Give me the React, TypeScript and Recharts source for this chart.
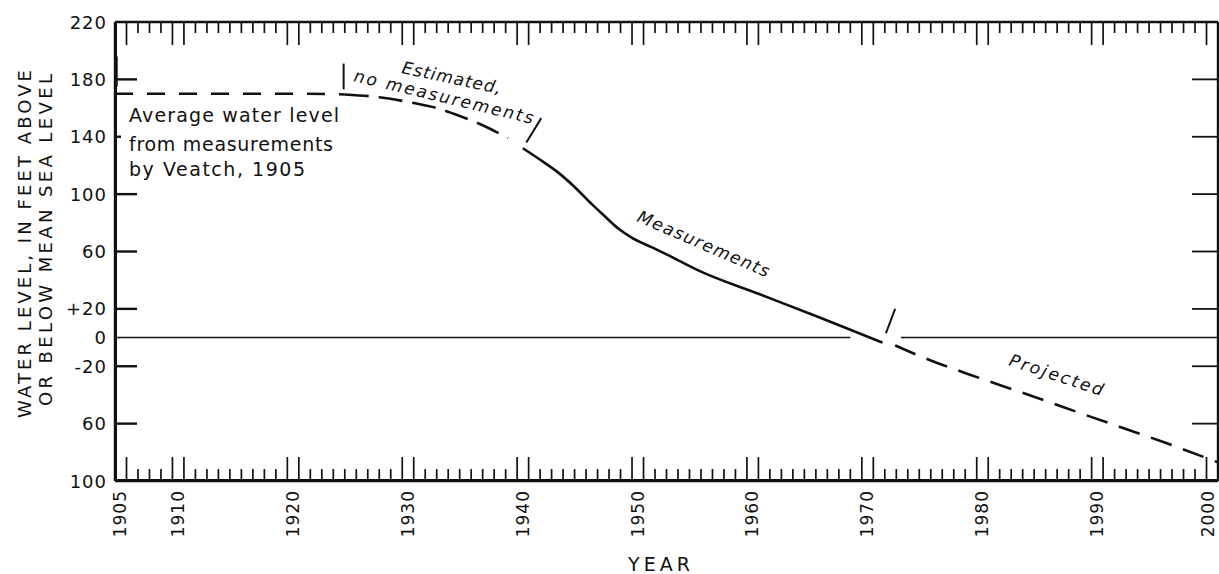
import { Line, LineChart, ReferenceLine, XAxis, YAxis } from "recharts"

// water level, feet above (+) or below (-) mean sea level
const veatchYears = [1904, 1910, 1916, 1920, 1924]
const veatchLevels = [170, 170, 170, 170, 169.5]

const estimatedYears = [1924, 1927, 1930, 1932, 1934, 1936, 1938.2]
const estimatedLevels = [169.5, 167.5, 163.5, 160, 154.5, 148, 139]

const measuredYears = [1939.5, 1941, 1942.5, 1944, 1945.5, 1946.7, 1947.8, 1949, 1950.7, 1952, 1955, 1960, 1965, 1968, 1970.8]
const measuredLevels = [132, 124, 115.5, 105, 93, 84, 76, 69.5, 63, 58, 46, 30.5, 15, 5.5, -3.5]

const projectedYears = [1971.9, 1975, 1978.1, 1982.8, 1989.2, 1995.3, 2000]
const projectedLevels = [-5.5, -16, -25, -38, -56, -73, -87]

// short break marks drawn across the curve
const breakMarks = [
  [[1904.15, 196], [1904.15, 175]],
  [[1923.9, 191], [1923.9, 173]],
  [[1941.1, 153], [1939.8, 136]],
  [[1971.9, 20], [1971.1, 3]],
]

// sea level line, broken where the curve crosses it
const seaLevelSpans = [
  [1904, 1968],
  [1972.4, 2000],
]

const levelTicks = [220, 180, 140, 100, 60, 20, 0, -20, -60, -100]
const levelTickLabels = ["220", "180", "140", "100", "60", "+20", "0", "-20", "60", "100"]

const yearTicks = Array.from({ length: 96 }, (_, i) => 1905 + i)
const yearLabels = [1905, 1910, 1920, 1930, 1940, 1950, 1960, 1970, 1980, 1990, 2000]

const toRows = (years: number[], levels: number[]) => years.map((year, i) => ({ year, level: levels[i] }))

const veatch = toRows(veatchYears, veatchLevels)
const estimated = toRows(estimatedYears, estimatedLevels)
const measured = toRows(measuredYears, measuredLevels)
const projected = toRows(projectedYears, projectedLevels)

const FONT = "'DejaVu Sans', sans-serif"
const INK = "#111"

const isLongYear = (year: number) => year % 10 === 0 || year % 10 === 9 || year === 1905

function BottomTick({ x, y, payload }: any) {
  const year = payload.value
  const len = isLongYear(year) ? 24 : 12
  const lx = year === 2000 ? x - 10 : x - 6
  return (
    <g>
      <line x1={x} x2={x} y1={y} y2={y - len} stroke={INK} strokeWidth={1.7} />
      {yearLabels.includes(year) && (
        <text
          x={lx}
          y={y + 9}
          transform={`rotate(-90 ${lx} ${y + 9})`}
          textAnchor="end"
          dominantBaseline="central"
          fontFamily={FONT}
          fontSize={17}
          letterSpacing={1}
          fill={INK}
        >
          {year}
        </text>
      )}
    </g>
  )
}

function TopTick({ x, y, payload }: any) {
  const len = isLongYear(payload.value) ? 23 : 11
  return <line x1={x} x2={x} y1={y} y2={y + len} stroke={INK} strokeWidth={1.7} />
}

function LeftTick({ x, y, payload }: any) {
  const v = payload.value
  const i = levelTicks.indexOf(v)
  const len = v === 140 ? 6 : v === 220 || v === 0 || v === -100 ? 0 : 22
  const px = Number(x)
  return (
    <g>
      {len > 0 && <line x1={px + 1} x2={px + len} y1={y} y2={y} stroke={INK} strokeWidth={2.4} />}
      <text
        x={px - 8}
        y={y}
        textAnchor="end"
        dominantBaseline="central"
        fontFamily={FONT}
        fontSize={18}
        letterSpacing={1}
        fill={INK}
      >
        {levelTickLabels[i]}
      </text>
    </g>
  )
}

function RightTick({ x, y, payload }: any) {
  const v = payload.value
  if (v === 220 || v === 0 || v === -100) return <g />
  return <line x1={x} x2={x - 26} y1={y} y2={y} stroke={INK} strokeWidth={1.8} />
}

const noteStyle = { fontFamily: FONT, fill: INK }
const axisLine = { stroke: INK, strokeWidth: 2.4 }

export default function App() {
  return (
    <div style={{ position: "absolute", left: 0, top: 0, background: "#fff" }}>
      <LineChart width={1219} height={574} margin={{ top: 0, right: 0, bottom: 0, left: 0 }}>
        <XAxis
          xAxisId="bottom"
          dataKey="year"
          type="number"
          domain={[1904, 2000]}
          allowDataOverflow
          ticks={yearTicks}
          interval={0}
          height={93}
          tickSize={0}
          tickMargin={0}
          tickLine={false}
          stroke={INK}
          axisLine={axisLine}
          tick={(props: any) => <BottomTick {...props} />}
        />
        <XAxis
          xAxisId="top"
          orientation="top"
          dataKey="year"
          type="number"
          domain={[1904, 2000]}
          allowDataOverflow
          ticks={yearTicks}
          interval={0}
          height={22}
          tickSize={0}
          tickMargin={0}
          tickLine={false}
          stroke={INK}
          axisLine={axisLine}
          tick={(props: any) => <TopTick {...props} />}
        />
        <YAxis
          yAxisId="left"
          type="number"
          domain={[-100, 220]}
          allowDataOverflow
          ticks={levelTicks}
          interval={0}
          width={115}
          tickSize={0}
          tickMargin={0}
          tickLine={false}
          stroke={INK}
          axisLine={axisLine}
          tick={(props: any) => <LeftTick {...props} />}
        />
        <YAxis
          yAxisId="right"
          orientation="right"
          type="number"
          domain={[-100, 220]}
          allowDataOverflow
          ticks={levelTicks}
          interval={0}
          width={1}
          tickSize={0}
          tickMargin={0}
          tickLine={false}
          stroke={INK}
          axisLine={axisLine}
          tick={(props: any) => <RightTick {...props} />}
        />

        {/* frame, drawn again just inside the left and bottom edges */}
        <ReferenceLine
          xAxisId="bottom"
          yAxisId="left"
          segment={[
            { x: 1904.08, y: -100 },
            { x: 1904.08, y: 220 },
          ]}
          ifOverflow="visible"
          stroke={INK}
          strokeWidth={2.2}
        />
        <ReferenceLine
          xAxisId="bottom"
          yAxisId="left"
          segment={[
            { x: 1904, y: -99.4 },
            { x: 2000, y: -99.4 },
          ]}
          ifOverflow="visible"
          stroke={INK}
          strokeWidth={2.2}
        />

        {seaLevelSpans.map(([a, b], i) => (
          <ReferenceLine
            key={`sea-${i}`}
            xAxisId="bottom"
            yAxisId="left"
            segment={[
              { x: a, y: 0 },
              { x: b, y: 0 },
            ]}
            stroke={INK}
            strokeWidth={1.6}
          />
        ))}

        <Line
          xAxisId="bottom"
          yAxisId="left"
          data={veatch}
          dataKey="level"
          type="monotone"
          stroke={INK}
          strokeWidth={2.6}
          strokeDasharray="18 14"
          dot={false}
          isAnimationActive={false}
        />
        <Line
          xAxisId="bottom"
          yAxisId="left"
          data={estimated}
          dataKey="level"
          type="monotone"
          stroke={INK}
          strokeWidth={2.6}
          strokeDasharray="24 10"
          dot={false}
          isAnimationActive={false}
        />
        <Line
          xAxisId="bottom"
          yAxisId="left"
          data={measured}
          dataKey="level"
          type="monotone"
          stroke={INK}
          strokeWidth={2.6}
          dot={false}
          isAnimationActive={false}
        />
        <Line
          xAxisId="bottom"
          yAxisId="left"
          data={projected}
          dataKey="level"
          type="monotone"
          stroke={INK}
          strokeWidth={2.6}
          strokeDasharray="22 12"
          dot={false}
          isAnimationActive={false}
        />

        {breakMarks.map(([p, q], i) => (
          <ReferenceLine
            key={`brk-${i}`}
            xAxisId="bottom"
            yAxisId="left"
            segment={[
              { x: p[0], y: p[1] },
              { x: q[0], y: q[1] },
            ]}
            stroke={INK}
            strokeWidth={2}
          />
        ))}

        {/* axis titles */}
        <text
          x={24}
          y={244}
          transform="rotate(-90 24 244)"
          textAnchor="middle"
          dominantBaseline="central"
          fontSize={18}
          textLength={348}
          lengthAdjust="spacing"
          {...noteStyle}
        >
          WATER LEVEL, IN FEET ABOVE
        </text>
        <text
          x={45}
          y={240}
          transform="rotate(-90 45 240)"
          textAnchor="middle"
          dominantBaseline="central"
          fontSize={18}
          textLength={332}
          lengthAdjust="spacing"
          {...noteStyle}
        >
          OR BELOW MEAN SEA LEVEL
        </text>
        <text x={661} y={571} textAnchor="middle" fontSize={19} letterSpacing={4} {...noteStyle}>
          YEAR
        </text>

        {/* notes on the curve */}
        <text x={129} y={122} fontSize={19} textLength={210} lengthAdjust="spacing" {...noteStyle}>
          Average water level
        </text>
        <text x={129} y={151} fontSize={19} textLength={204} lengthAdjust="spacing" {...noteStyle}>
          from measurements
        </text>
        <text x={129} y={176} fontSize={19} textLength={176} lengthAdjust="spacing" {...noteStyle}>
          by Veatch, 1905
        </text>
        <text
          x={401}
          y={73}
          transform="rotate(12 401 73)"
          fontSize={17}
          fontStyle="italic"
          textLength={101}
          lengthAdjust="spacing"
          {...noteStyle}
        >
          Estimated,
        </text>
        <text
          x={353}
          y={81}
          transform="rotate(13.5 353 81)"
          fontSize={17}
          fontStyle="italic"
          textLength={184}
          lengthAdjust="spacing"
          {...noteStyle}
        >
          no measurements
        </text>
        <text
          x={636}
          y={221}
          transform="rotate(23.4 636 221)"
          fontSize={17}
          fontStyle="italic"
          textLength={142}
          lengthAdjust="spacing"
          {...noteStyle}
        >
          Measurements
        </text>
        <text
          x={1008}
          y={365}
          transform="rotate(18.4 1008 365)"
          fontSize={17}
          fontStyle="italic"
          textLength={98}
          lengthAdjust="spacing"
          {...noteStyle}
        >
          Projected
        </text>
      </LineChart>
    </div>
  )
}
